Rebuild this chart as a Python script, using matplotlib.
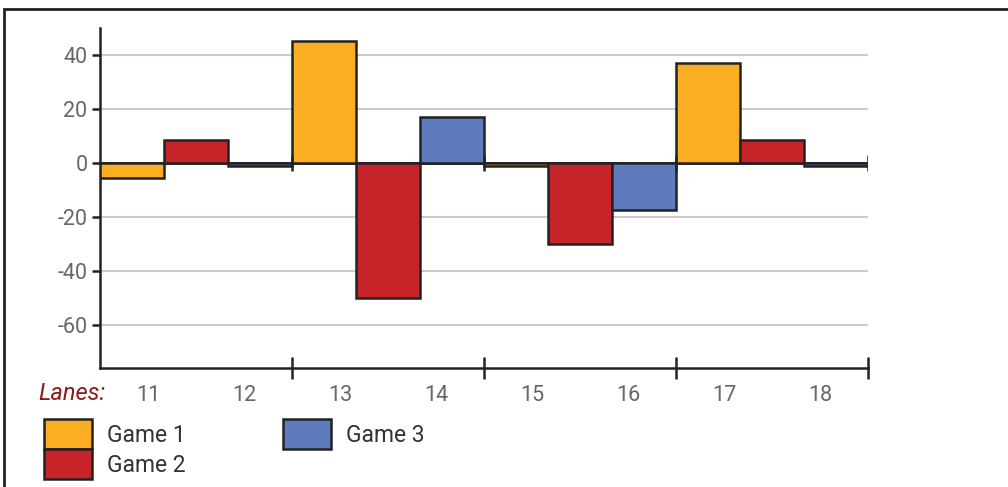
import matplotlib.pyplot as plt
from matplotlib.patches import Patch, Rectangle
import numpy as np

plt.rcParams['font.family'] = ['Roboto', 'DejaVu Sans']

# data
lanes = ['11', '12', '13', '14', '15', '16', '17', '18']
games = ['Game 1', 'Game 2', 'Game 3']
game1 = [-5.5, 45, -1, 37]
game2 = [8.5, -50, -30, 8.5]
game3 = [-1, 17, -17.5, -1]
colors = ['#FBAE23', '#C62428', '#5E7BBD']

edge = '#222222'
fig = plt.figure(figsize=(10.08, 4.87), dpi=100)
ax = fig.add_axes([100 / 1008, 1 - 368 / 487, 768 / 1008, 340 / 487])

n = len(game1)
series = [game1, game2, game3]
for j, vals in enumerate(series):
    x = np.arange(n) * 3 + j + 0.5
    ax.bar(x, vals, width=1.0, color=colors[j], edgecolor=edge, linewidth=1.8, zorder=3)

ax.set_xlim(0, 3 * n)
ax.set_ylim(-76, 50)

# grid
for y in [-60, -40, -20, 20, 40]:
    ax.axhline(y, color='#cccccc', lw=1.5, zorder=1)
ax.axhline(0, color=edge, lw=2, zorder=2)
ax.vlines(np.arange(1, n + 1) * 3, -3, 3, color=edge, lw=1.8, zorder=4)

ax.set_yticks([-60, -40, -20, 0, 20, 40])
ax.set_yticklabels(['-60', '-40', '-20', '0', '20', '40'])
ax.set_xticks(np.arange(1, n + 1) * 3)
ax.set_xticklabels([])
ax.set_xticks(np.arange(len(lanes)) * 1.5 + 0.75, minor=True)
ax.set_xticklabels(lanes, minor=True)

ax.tick_params(axis='x', which='major', direction='inout', length=16, width=1.8, color=edge)
ax.tick_params(axis='x', which='minor', length=0, pad=12, labelsize=15.5, labelcolor='#666666')
ax.tick_params(axis='y', direction='out', length=6, width=1.8, color=edge, pad=3,
               labelsize=15.5, labelcolor='#666666')

for s in ['top', 'right']:
    ax.spines[s].set_visible(False)
ax.spines['left'].set_linewidth(1.8)
ax.spines['bottom'].set_linewidth(1.8)
ax.spines['left'].set_color(edge)
ax.spines['bottom'].set_color(edge)

fig.text(38 / 1008, 1 - 393 / 487, 'Lanes:', color='#8B1A1A', style='italic',
         fontsize=17, va='center', ha='left')

handles = [Patch(facecolor=colors[0], edgecolor=edge, linewidth=1.8, label=games[0]),
           Patch(facecolor=colors[1], edgecolor=edge, linewidth=1.8, label=games[1]),
           Patch(facecolor=colors[2], edgecolor=edge, linewidth=1.8, label=games[2])]
fig.legend(handles=handles, ncol=2, loc='upper left', frameon=False,
           bbox_to_anchor=(44 / 1008, 1 - 419 / 487), borderpad=0, borderaxespad=0,
           handlelength=2.09, handleheight=1.64, labelspacing=0.0, handletextpad=0.65,
           columnspacing=4.25, fontsize=16.5, labelcolor='#333333')

# outer frame
fig.patches.append(Rectangle((4 / 1008, -0.1), 1.2, (1 - 9 / 487) + 0.1,
                             transform=fig.transFigure, fill=False, edgecolor=edge,
                             lw=2, clip_on=False))

fig.savefig('out.png', dpi=100)
